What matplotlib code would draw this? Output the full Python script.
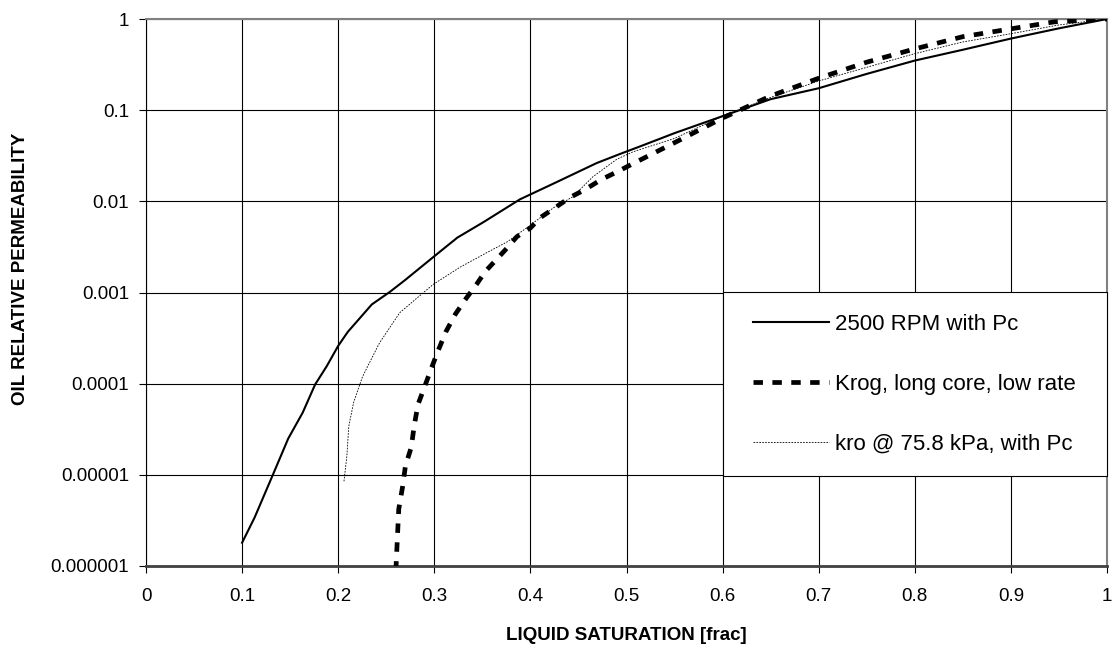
import matplotlib
matplotlib.use("Agg")
import matplotlib.pyplot as plt
from matplotlib.patches import Rectangle
from matplotlib.ticker import FixedLocator, FixedFormatter

plt.rcParams['font.family'] = ['Liberation Sans', 'DejaVu Sans']

# 2500 RPM with Pc
sl_rpm = [0.100, 0.113, 0.132, 0.148, 0.163, 0.176, 0.188, 0.200, 0.210, 0.235,
          0.254, 0.270, 0.299, 0.324, 0.351, 0.389, 0.427, 0.469, 0.493, 0.514,
          0.550, 0.600, 0.650, 0.700, 0.750, 0.800, 0.850, 0.900, 0.950, 1.000]
kro_rpm = [1.8e-6, 3.4e-6, 1.0e-5, 2.5e-5, 4.8e-5, 9.8e-5, 1.55e-4, 2.6e-4, 3.7e-4, 7.4e-4,
           1.02e-3, 1.38e-3, 2.45e-3, 4.0e-3, 5.9e-3, 1.05e-2, 1.62e-2, 2.63e-2, 3.3e-2, 4.0e-2,
           5.6e-2, 8.6e-2, 0.132, 0.174, 0.25, 0.35, 0.46, 0.61, 0.79, 1.0]

# Krog, long core, low rate
sl_krog = [0.260, 0.261, 0.263, 0.267, 0.270, 0.276, 0.279, 0.283, 0.290, 0.297,
           0.304, 0.312, 0.322, 0.332, 0.344, 0.353, 0.363, 0.376, 0.386, 0.400,
           0.410, 0.427, 0.441, 0.457, 0.474, 0.490, 0.507, 0.550, 0.600, 0.650,
           0.700, 0.750, 0.800, 0.850, 0.900, 0.945, 1.000]
kro_krog = [8.9e-7, 1.5e-6, 4.2e-6, 7.4e-6, 1.26e-5, 2.0e-5, 3.4e-5, 5.9e-5, 9.3e-5, 1.48e-4,
            2.3e-4, 3.7e-4, 5.8e-4, 8.3e-4, 1.23e-3, 1.7e-3, 2.2e-3, 3.1e-3, 4.1e-3, 5.1e-3,
            6.6e-3, 8.7e-3, 1.1e-2, 1.35e-2, 1.74e-2, 2.1e-2, 2.6e-2, 4.4e-2, 8.2e-2, 0.143,
            0.224, 0.336, 0.47, 0.64, 0.78, 0.93, 1.0]

# kro @ 75.8 kPa, with Pc
sl_758 = [0.206, 0.209, 0.211, 0.216, 0.225, 0.230, 0.243, 0.264, 0.282, 0.299,
          0.327, 0.355, 0.376, 0.397, 0.424, 0.444, 0.465, 0.490, 0.507, 0.550,
          0.600, 0.650, 0.700, 0.750, 0.800, 0.850, 0.900, 0.950, 1.000]
kro_758 = [8.5e-6, 1.6e-5, 3.4e-5, 6.2e-5, 1.17e-4, 1.5e-4, 2.8e-4, 6.0e-4, 8.7e-4, 1.23e-3,
           1.9e-3, 2.75e-3, 3.6e-3, 5.2e-3, 8.5e-3, 1.12e-2, 1.86e-2, 2.9e-2, 3.5e-2, 4.9e-2,
           8.6e-2, 0.138, 0.209, 0.295, 0.417, 0.56, 0.69, 0.86, 1.0]

x_ticks = [0, 0.1, 0.2, 0.3, 0.4, 0.5, 0.6, 0.7, 0.8, 0.9, 1.0]
x_labels = ["0", "0.1", "0.2", "0.3", "0.4", "0.5", "0.6", "0.7", "0.8", "0.9", "1"]
y_ticks = [1e-6, 1e-5, 1e-4, 1e-3, 1e-2, 1e-1, 1]
y_labels = ["0.000001", "0.00001", "0.0001", "0.001", "0.01", "0.1", "1"]

fig = plt.figure(figsize=(11.14, 6.51), dpi=100)
ax = fig.add_axes([146 / 1114, 1 - 566 / 651, (1107 - 146) / 1114, (566 - 19) / 651])

ax.plot(sl_rpm, kro_rpm, color='black', lw=1.5, label='2500 RPM with Pc', zorder=3)
ax.plot(sl_krog, kro_krog, color='black', lw=3.4, linestyle=(0, (2.0, 2.0)),
        label='Krog, long core, low rate', zorder=3)
ax.plot(sl_758, kro_758, color='black', lw=0.6, linestyle=(0, (2, 1.5)),
        label='kro @ 75.8 kPa, with Pc', zorder=3)

ax.set_yscale('log')
ax.set_xlim(0, 1)
ax.set_ylim(1e-6, 1)
ax.xaxis.set_major_locator(FixedLocator(x_ticks))
ax.xaxis.set_major_formatter(FixedFormatter(x_labels))
ax.yaxis.set_major_locator(FixedLocator(y_ticks))
ax.yaxis.set_major_formatter(FixedFormatter(y_labels))
ax.yaxis.set_minor_locator(FixedLocator([]))

ax.grid(True, color='black', lw=0.8)
ax.set_axisbelow(True)
ax.tick_params(axis='x', direction='out', length=5, width=0.8, pad=11, labelsize=13.5)
ax.tick_params(axis='y', direction='out', length=5, width=0.8, pad=7, labelsize=13.5)

ax.spines['top'].set_color('#808080')
ax.spines['top'].set_linewidth(1.5)
ax.spines['right'].set_color('#808080')
ax.spines['right'].set_linewidth(1.5)
ax.spines['left'].set_color('black')
ax.spines['left'].set_linewidth(0.8)
ax.spines['bottom'].set_color('#404040')
ax.spines['bottom'].set_linewidth(2)

# legend box: white panel with black border, covering the grid
box = Rectangle(((723 - 146) / 961, (566 - 476) / 547), (1107 - 723) / 961, (476 - 292) / 547,
                transform=ax.transAxes, facecolor='white', edgecolor='black', lw=0.8,
                zorder=4, clip_on=False)
ax.add_patch(box)

leg = ax.legend(loc='upper left', bbox_to_anchor=((753 - 146) / 961, (566 - 314) / 547),
                borderaxespad=0, fontsize=16, frameon=False, handlelength=3.4,
                handletextpad=0.3, labelspacing=1.75, borderpad=0)
leg.set_zorder(5)

fig.text(626 / 1114, 1 - 635 / 651, 'LIQUID SATURATION [frac]', ha='center', va='center',
         fontsize=13.5, fontweight='bold')
fig.text(21 / 1114, 1 - 269 / 651, 'OIL RELATIVE PERMEABILITY', ha='center', va='center',
         rotation=90, fontsize=13.5, fontweight='bold')

fig.savefig('out.png', dpi=100)
